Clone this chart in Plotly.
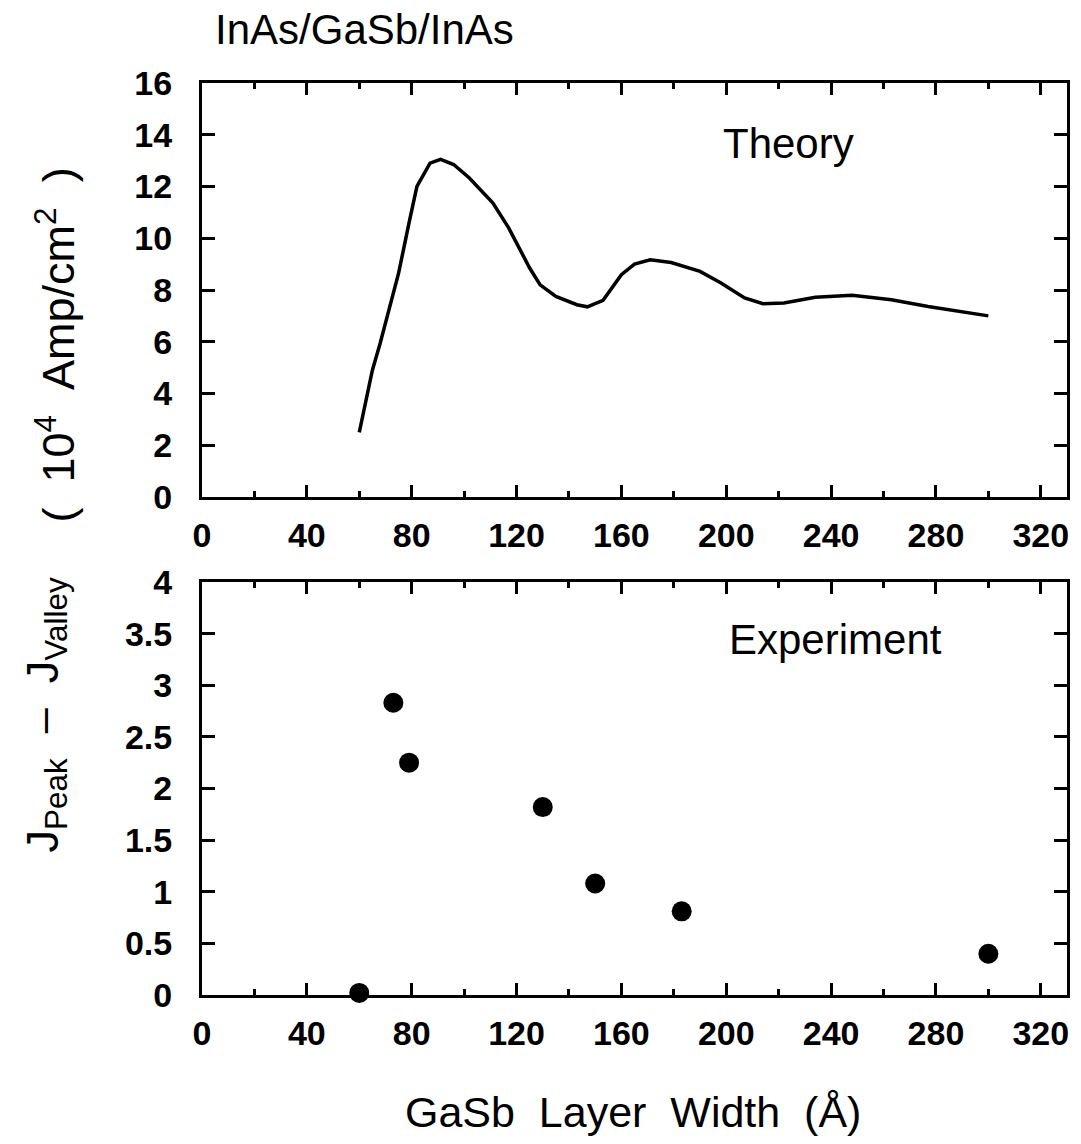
import plotly.graph_objects as go

# ---- data ----
theory_width = [60, 65, 68, 75, 79, 82, 87, 91, 96, 102, 111, 117, 125, 129, 135, 143, 147, 153,
                160, 165, 171, 179, 190, 198, 207, 214, 222, 234, 248, 263, 277, 290, 300]
theory_current = [2.5, 4.9, 5.95, 8.65, 10.6, 12.0, 12.9, 13.05, 12.85, 12.33, 11.36, 10.4, 8.85, 8.2,
                  7.75, 7.43, 7.35, 7.6, 8.59, 9.0, 9.17, 9.06, 8.72, 8.27, 7.69, 7.47, 7.5, 7.72,
                  7.8, 7.62, 7.36, 7.17, 7.0]

exp_width = [60, 73, 79, 130, 150, 183, 300]
exp_current = [0.02, 2.83, 2.25, 1.82, 1.08, 0.81, 0.40]

x_ticks = [0, 40, 80, 120, 160, 200, 240, 280, 320]

# ---- figure ----
W, H = 1081, 1144
ML, MR, MT, MB = 202, 11, 83, 149
PW, PH = W - ML - MR, H - MT - MB


def px_x(px):
    return (px - ML) / PW


def px_y(py):
    return (H - MB - py) / PH


fig = go.Figure()
fig.add_trace(go.Scatter(x=theory_width, y=theory_current, mode="lines",
                         line=dict(color="black", width=3.5), xaxis="x", yaxis="y",
                         showlegend=False))
fig.add_trace(go.Scatter(x=exp_width, y=exp_current, mode="markers",
                         marker=dict(color="black", size=20, symbol="circle"),
                         xaxis="x2", yaxis="y2", showlegend=False, cliponaxis=False))

tickfont = dict(family="Liberation Sans, Arial, sans-serif", size=34, color="black", weight="bold")

xcommon = dict(range=[0, 330], tickmode="array", tickvals=x_ticks, ticks="inside", ticklen=12,
               tickwidth=2.5, tickcolor="black", showline=True, linewidth=3, linecolor="black",
               mirror="ticks", showgrid=False, zeroline=False, tickfont=tickfont,
               ticklabelstandoff=6,
               minor=dict(dtick=20, ticks="inside", ticklen=6, tickwidth=2.5, tickcolor="black",
                          showgrid=False))
ycommon = dict(ticks="inside", ticklen=13, tickwidth=2.5, tickcolor="black", showline=True,
               linewidth=3, linecolor="black", mirror="ticks", showgrid=False, zeroline=False,
               tickfont=tickfont, ticklabelstandoff=20)

top_y0 = px_y(497)
bot_y1 = px_y(582)

fig.update_layout(
    width=W, height=H, autosize=False,
    margin=dict(l=ML, r=MR, t=MT, b=MB),
    paper_bgcolor="white", plot_bgcolor="white",
    xaxis=dict(domain=[0, 1], anchor="y", **xcommon),
    yaxis=dict(domain=[top_y0, 1], anchor="x", range=[0, 16], dtick=2, tick0=0, **ycommon),
    xaxis2=dict(domain=[0, 1], anchor="y2", **xcommon),
    yaxis2=dict(domain=[0, bot_y1], anchor="x2", range=[0, 4], dtick=0.5, tick0=0, **ycommon),
)

tfont = dict(family="Liberation Sans, Arial, sans-serif", size=42, color="black")
sp = "\u00a0\u00a0"

fig.add_annotation(text="InAs/GaSb/InAs", xref="paper", yref="paper", x=px_x(213), y=px_y(30),
                   xanchor="left", yanchor="middle", showarrow=False, font=tfont)
fig.add_annotation(text="Theory", xref="paper", yref="paper", x=px_x(791), y=px_y(143),
                   xanchor="center", yanchor="middle", showarrow=False, font=tfont)
fig.add_annotation(text="Experiment", xref="paper", yref="paper", x=px_x(838), y=px_y(639),
                   xanchor="center", yanchor="middle", showarrow=False, font=tfont)
fig.add_annotation(text=f"GaSb{sp}Layer{sp}Width{sp}(Å)", xref="paper", yref="paper",
                   x=px_x(634), y=px_y(1112), xanchor="center", yanchor="middle",
                   showarrow=False, font=dict(family="Liberation Sans, Arial, sans-serif", size=43,
                                              color="black"))
fig.add_annotation(text=f"({sp}10<sup>4</sup>{sp}Amp/cm<sup>2</sup>{sp})", xref="paper", yref="paper",
                   x=px_x(55), y=px_y(345), xanchor="center", yanchor="middle", textangle=-90,
                   showarrow=False, font=dict(family="Liberation Sans, Arial, sans-serif", size=45,
                                              color="black"))
fig.add_annotation(text=f"J<sub>Peak</sub>{sp}–{sp}J<sub>Valley</sub>", xref="paper", yref="paper",
                   x=px_x(45), y=px_y(715), xanchor="center", yanchor="middle", textangle=-90,
                   showarrow=False, font=dict(family="Liberation Sans, Arial, sans-serif", size=45,
                                              color="black"))

fig.write_html("out.html")
